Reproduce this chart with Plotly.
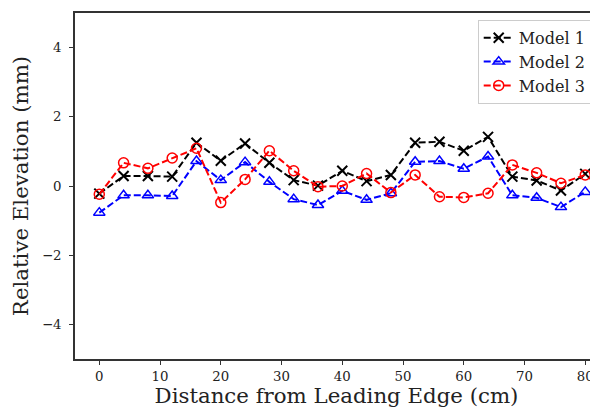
import plotly.graph_objects as go

distance = [0, 4, 8, 12, 16, 20, 24, 28, 32, 36, 40, 44, 48, 52, 56, 60, 64, 68, 72, 76, 80]
model1 = [-0.22, 0.29, 0.29, 0.27, 1.25, 0.73, 1.23, 0.67, 0.17, 0.01, 0.44, 0.14, 0.32, 1.25, 1.28, 1.02, 1.42, 0.27, 0.16, -0.13, 0.35]
model2 = [-0.77, -0.27, -0.27, -0.29, 0.72, 0.17, 0.69, 0.12, -0.38, -0.55, -0.14, -0.40, -0.21, 0.70, 0.72, 0.50, 0.85, -0.27, -0.34, -0.61, -0.17]
model3 = [-0.24, 0.67, 0.51, 0.81, 1.09, -0.48, 0.19, 1.02, 0.44, -0.02, 0.0, 0.36, -0.19, 0.32, -0.31, -0.33, -0.21, 0.61, 0.38, 0.08, 0.32]

x_ticks = [0, 10, 20, 30, 40, 50, 60, 70, 80]
y_ticks = [-4, -2, 0, 2, 4]

font = "DejaVu Serif"
fig = go.Figure()
fig.add_trace(go.Scatter(x=distance, y=model1, name="Model 1", mode="lines+markers",
                         line=dict(color="black", width=2, dash="7px,3px"),
                         marker=dict(symbol="x-thin", size=10, color="black", line=dict(color="black", width=2))))
fig.add_trace(go.Scatter(x=distance, y=model2, name="Model 2", mode="lines+markers",
                         line=dict(color="blue", width=2, dash="7px,3px"),
                         marker=dict(symbol="triangle-up-open", size=10, color="blue", line=dict(color="blue", width=1.5))))
fig.add_trace(go.Scatter(x=distance, y=model3, name="Model 3", mode="lines+markers",
                         line=dict(color="red", width=2, dash="7px,3px"),
                         marker=dict(symbol="circle-open", size=10, color="red", line=dict(color="red", width=1.5))))

# page body has an 8px margin: figure sized so the page does not overflow
fig.update_layout(
    width=590, height=400,
    margin=dict(l=67, r=0, t=5, b=49, autoexpand=False),
    paper_bgcolor="white", plot_bgcolor="white",
    font=dict(family=font, size=13, color="#222"),
    showlegend=True,
    legend=dict(x=0.77, xanchor="left", y=0.98, yanchor="top",
                bgcolor="white", bordercolor="#cccccc", borderwidth=1,
                font=dict(family=font, size=16, color="#222"),
                tracegroupgap=0, itemwidth=30),
)
fig.update_xaxes(range=[-4, 82.1], tickvals=x_ticks, showgrid=False, zeroline=False,
                 showline=True, linecolor="#333", linewidth=1.5, mirror=True,
                 ticks="outside", ticklen=4, tickwidth=1, tickcolor="#333",
                 automargin=False, ticklabeloverflow="allow",
                 tickfont=dict(family=font, size=13.3, color="#222"),
                 title=dict(text="Distance from Leading Edge (cm)", font=dict(family=font, size=21.3, color="#222"), standoff=11))
fig.update_yaxes(range=[-5, 5], tickvals=y_ticks, showgrid=False, zeroline=False,
                 showline=True, linecolor="#333", linewidth=1.5, mirror=False,
                 ticks="outside", ticklen=4, tickwidth=1, tickcolor="#333",
                 automargin=False, ticklabelstandoff=5,
                 tickfont=dict(family=font, size=13.3, color="#222"),
                 title=dict(text="Relative Elevation (mm)", font=dict(family=font, size=21.3, color="#222"), standoff=8))

fig.write_html("out.html")
